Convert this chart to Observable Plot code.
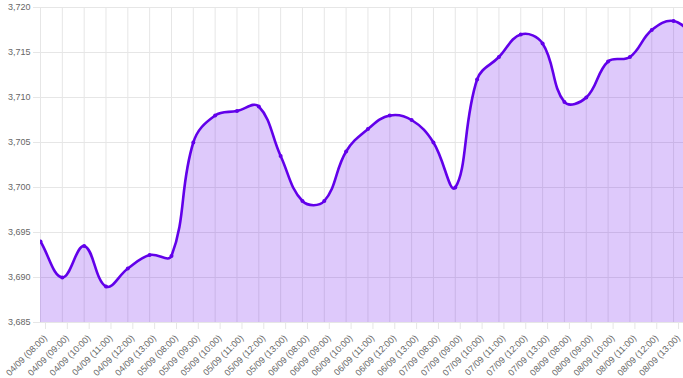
<!DOCTYPE html>
<html>
<head>
<meta charset="utf-8">
<script src="https://cdn.jsdelivr.net/npm/d3@7"></script>
<script src="https://cdn.jsdelivr.net/npm/@observablehq/plot@0.6"></script>
<style>
  html, body { margin: 0; padding: 0; background: #fff; overflow: hidden; }
  #chart svg { font-family: "Liberation Sans", Arial, Helvetica, sans-serif; }
</style>
</head>
<body>
<div id="chart"></div>
<script>
// Category labels (the last one lies just past the visible edge of the chart)
const labels = [
  "04/09 (08:00)", "04/09 (09:00)", "04/09 (10:00)", "04/09 (11:00)", "04/09 (12:00)", "04/09 (13:00)",
  "05/09 (08:00)", "05/09 (09:00)", "05/09 (10:00)", "05/09 (11:00)", "05/09 (12:00)", "05/09 (13:00)",
  "06/09 (08:00)", "06/09 (09:00)", "06/09 (10:00)", "06/09 (11:00)", "06/09 (12:00)", "06/09 (13:00)",
  "07/09 (08:00)", "07/09 (09:00)", "07/09 (10:00)", "07/09 (11:00)", "07/09 (12:00)", "07/09 (13:00)",
  "08/09 (08:00)", "08/09 (09:00)", "08/09 (10:00)", "08/09 (11:00)", "08/09 (12:00)", "08/09 (13:00)",
  "09/09 (08:00)"
];
const values = [
  3694.0, 3690.0, 3693.5, 3689.0, 3691.0, 3692.5,
  3692.4, 3705.0, 3708.0, 3708.5, 3709.0, 3703.5,
  3698.5, 3698.5, 3704.0, 3706.5, 3708.0, 3707.5,
  3705.0, 3700.0, 3712.0, 3714.5, 3717.0, 3716.0,
  3709.5, 3710.0, 3714.0, 3714.5, 3717.5, 3718.5,
  3716.7
];
const visibleCount = 30;
const yTicks = [3685, 3690, 3695, 3700, 3705, 3710, 3715, 3720];
const yDomain = [3685, 3720];

const data = labels.map((label, i) => ({i, label, value: values[i]}));
const xTicks = d3.range(visibleCount);

// Chart.js-style cubic spline (tension 0.4) as a d3 curve factory
function chartSpline(context) { return new ChartSpline(context, 0.4); }
function ChartSpline(context, t) { this._context = context; this._t = t; }
ChartSpline.prototype = {
  areaStart() { this._line = 0; },
  areaEnd() { this._line = NaN; },
  lineStart() { this._x = []; this._y = []; },
  point(x, y) { this._x.push(+x); this._y.push(+y); },
  lineEnd() {
    const x = this._x, y = this._y, n = x.length, c = this._context, t = this._t;
    if (n) {
      if (this._line) c.lineTo(x[0], y[0]); else c.moveTo(x[0], y[0]);
      if (n === 2) c.lineTo(x[1], y[1]);
      else if (n > 2) {
        const cp = [];
        for (let i = 0; i < n; i++) {
          const i0 = Math.max(0, i - 1), i2 = Math.min(n - 1, i + 1);
          const d01 = Math.hypot(x[i] - x[i0], y[i] - y[i0]);
          const d12 = Math.hypot(x[i2] - x[i], y[i2] - y[i]);
          let s01 = d01 / (d01 + d12), s12 = d12 / (d01 + d12);
          if (isNaN(s01)) s01 = 0;
          if (isNaN(s12)) s12 = 0;
          const fa = t * s01, fb = t * s12;
          cp.push({
            px: x[i] - fa * (x[i2] - x[i0]), py: y[i] - fa * (y[i2] - y[i0]),
            nx: x[i] + fb * (x[i2] - x[i0]), ny: y[i] + fb * (y[i2] - y[i0])
          });
        }
        for (let i = 1; i < n; i++) {
          c.bezierCurveTo(cp[i - 1].nx, cp[i - 1].ny, cp[i].px, cp[i].py, x[i], y[i]);
        }
      }
    }
    if (this._line || (this._line !== 0 && n === 1)) c.closePath();
    this._line = 1 - this._line;
  }
};

const lineColor = "#6200ea";
const gridColor = "#e6e6e6";
const textColor = "#666";

const chart = Plot.plot({
  width: 683,
  height: 378,
  marginLeft: 40,
  marginRight: 0,
  marginTop: 7,
  marginBottom: 56,
  style: {fontFamily: "'Liberation Sans', Arial, Helvetica, sans-serif", fontSize: "9px", background: "#fff"},
  x: {type: "linear", domain: [0, labels.length - 1], range: [40, 40 + (labels.length - 1) * 21.83]},
  y: {domain: yDomain},
  marks: [
    Plot.gridY(yTicks, {stroke: gridColor, strokeOpacity: 1}),
    Plot.gridX(xTicks, {stroke: gridColor, strokeOpacity: 1}),
    Plot.areaY(data, {x: "i", y1: yDomain[0], y2: "value", fill: lineColor, fillOpacity: 0.21, curve: chartSpline, clip: true}),
    Plot.line(data, {x: "i", y: "value", stroke: lineColor, strokeWidth: 2.6, curve: chartSpline, clip: true}),
    Plot.dot(data, {x: "i", y: "value", r: 2, fill: lineColor, stroke: null, clip: true}),
    Plot.axisY({ticks: yTicks, tickFormat: d3.format(","), tickSize: 7, tickPadding: 3, stroke: gridColor, fill: textColor, fontSize: 9, label: null}),
    Plot.axisX({ticks: xTicks, tickFormat: (i) => labels[i], tickRotate: -45, tickSize: 7, tickPadding: 7, dx: 5, stroke: gridColor, fill: textColor, fontSize: 9, label: null})
  ]
});
document.getElementById("chart").appendChild(chart);
</script>
</body>
</html>
